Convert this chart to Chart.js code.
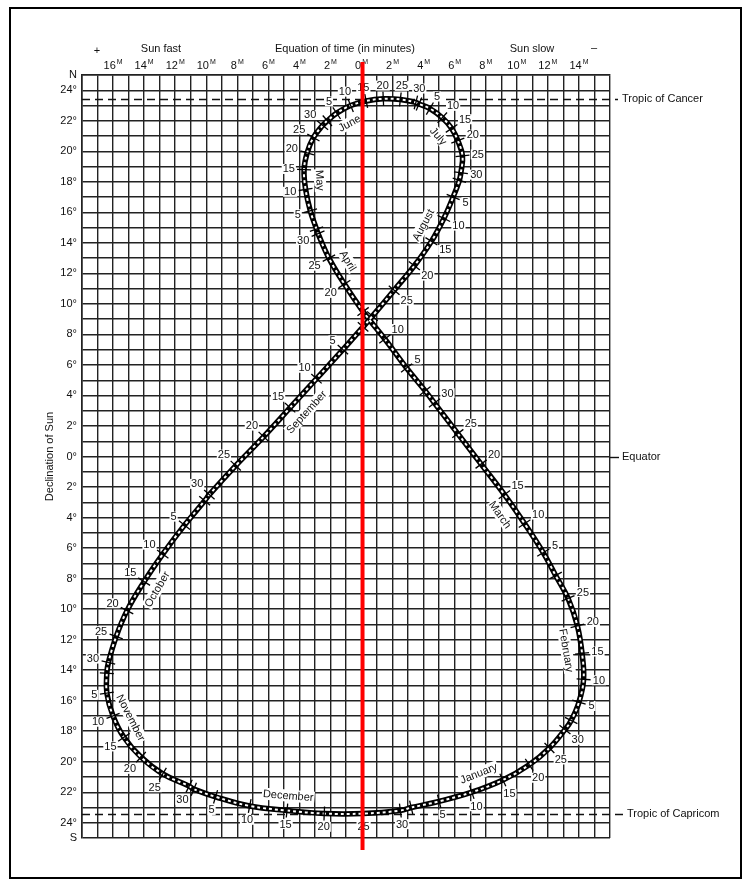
<!DOCTYPE html>
<html>
<head>
<meta charset="utf-8">
<script src="https://cdn.jsdelivr.net/npm/chart.js@4.4.1/dist/chart.umd.min.js"></script>
<style>
  html, body { margin: 0; padding: 0; background: #fff; }
  canvas { display: block; }
</style>
</head>
<body>
<canvas id="analemma" width="743" height="880"></canvas>
<script>
const FONT = '"Liberation Sans", Arial, Helvetica, sans-serif';

const months = ['January', 'February', 'March', 'April', 'May', 'June',
  'July', 'August', 'September', 'October', 'November', 'December'];

// one point on the 1st and then every 5 days, last point closes the loop
const pointMonth = [
  0, 0, 0, 0, 0, 0, 0,
  1, 1, 1, 1, 1, 1,
  2, 2, 2, 2, 2, 2, 2,
  3, 3, 3, 3, 3, 3, 3,
  4, 4, 4, 4, 4, 4, 4,
  5, 5, 5, 5, 5, 5, 5,
  6, 6, 6, 6, 6, 6, 6,
  7, 7, 7, 7, 7, 7, 7,
  8, 8, 8, 8, 8, 8, 8,
  9, 9, 9, 9, 9, 9, 9,
  10, 10, 10, 10, 10, 10, 10,
  11, 11, 11, 11, 11, 11, 11,
  0
];
const pointDay = [
  1, 5, 10, 15, 20, 25, 30,
  1, 5, 10, 15, 20, 25,
  1, 5, 10, 15, 20, 25, 30,
  1, 5, 10, 15, 20, 25, 30,
  1, 5, 10, 15, 20, 25, 30,
  1, 5, 10, 15, 20, 25, 30,
  1, 5, 10, 15, 20, 25, 30,
  1, 5, 10, 15, 20, 25, 30,
  1, 5, 10, 15, 20, 25, 30,
  1, 5, 10, 15, 20, 25, 30,
  1, 5, 10, 15, 20, 25, 30,
  1, 5, 10, 15, 20, 25, 30,
  1
];
// equation of time in minutes (+ = sun fast)
const eot = [
  -3.2, -5.0, -7.1, -9.1, -10.8, -12.1, -13.1,
  -13.5, -14.0, -14.3, -14.2, -13.9, -13.3,
  -12.5, -11.7, -10.5, -9.2, -7.7, -6.2, -4.7,
  -4.1, -2.9, -1.5, -0.1, 1.1, 2.1, 2.8,
  2.9, 3.3, 3.6, 3.7, 3.5, 3.1, 2.5,
  2.2, 1.6, 0.7, -0.3, -1.4, -2.5, -3.5,
  -3.7, -4.4, -5.2, -5.8, -6.2, -6.5, -6.4,
  -6.3, -5.9, -5.3, -4.5, -3.4, -2.1, -0.7,
  -0.1, 1.2, 2.9, 4.6, 6.3, 8.1, 9.8,
  10.1, 11.4, 12.8, 14.0, 15.1, 15.8, 16.3,
  16.4, 16.4, 16.0, 15.3, 14.2, 12.8, 11.1,
  10.8, 9.4, 7.2, 4.8, 2.4, -0.1, -2.5,
  -3.2
];
// declination of the sun in degrees (+ = north)
const decl = [
  -23.0, -22.6, -22.0, -21.2, -20.2, -19.1, -17.9,
  -17.3, -16.1, -14.6, -12.9, -11.1, -9.3,
  -7.8, -6.3, -4.4, -2.5, -0.5, 1.5, 3.5,
  4.3, 5.8, 7.7, 9.5, 11.3, 13.0, 14.6,
  14.9, 16.1, 17.5, 18.8, 19.9, 20.9, 21.7,
  22.0, 22.5, 23.0, 23.3, 23.44, 23.4, 23.2,
  23.1, 22.8, 22.2, 21.5, 20.7, 19.7, 18.6,
  18.1, 17.0, 15.6, 14.1, 12.5, 10.9, 9.2,
  8.5, 7.0, 5.1, 3.2, 1.3, -0.6, -2.5,
  -2.9, -4.5, -6.4, -8.2, -10.1, -11.8, -13.5,
  -14.2, -15.5, -17.0, -18.4, -19.7, -20.8, -21.6,
  -21.8, -22.3, -22.9, -23.2, -23.4, -23.4, -23.2,
  -23.0
];
// day of the month where each month name sits
const monthLabelDay = [12, 16, 13, 23, 12, 7, 14, 13, 14, 15, 12, 15];

const xTickValues = [16, 14, 12, 10, 8, 6, 4, 2, 0, -2, -4, -6, -8, -10, -12, -14];
const tropic = 23.44;
const upperCentre = [-1.5, 17];
const lowerCentre = [1, -10];

const curve = eot.map((v, i) => ({ x: v, y: decl[i] }));
const gridColor = '#222';

function px(chart, i) {
  return { x: chart.scales.x.getPixelForValue(eot[i]), y: chart.scales.y.getPixelForValue(decl[i]) };
}
function unit(dx, dy) {
  const l = Math.hypot(dx, dy) || 1;
  return { x: dx / l, y: dy / l };
}
function tangent(chart, i) {
  const n = eot.length;
  const a = px(chart, i > 0 ? i - 1 : n - 2);
  const b = px(chart, i < n - 1 ? i + 1 : 1);
  return unit(b.x - a.x, b.y - a.y);
}
function outwardNormal(chart, p, t, dec) {
  const c = dec > 8.8 ? upperCentre : lowerCentre;
  const cx = chart.scales.x.getPixelForValue(c[0]);
  const cy = chart.scales.y.getPixelForValue(c[1]);
  let nx = -t.y, ny = t.x;
  if (nx * (p.x - cx) + ny * (p.y - cy) < 0) { nx = -nx; ny = -ny; }
  return { x: nx, y: ny };
}
// true when the point lies right at the crossing of the two branches
function nearCrossing(chart, i) {
  const n = eot.length - 1;
  const p = px(chart, i);
  for (let k = 0; k < n; k++) {
    const gap = Math.abs(k - i);
    if (Math.min(gap, n - gap) <= 2) continue;
    const q = px(chart, k);
    if (Math.hypot(q.x - p.x, q.y - p.y) < 20) return true;
  }
  return false;
}

const decorations = {
  id: 'decorations',
  beforeDatasetsDraw(chart) {
    const ctx = chart.ctx, a = chart.chartArea, ys = chart.scales.y;
    ctx.save();
    ctx.strokeStyle = '#111';
    ctx.lineWidth = 1.4;
    ctx.setLineDash([8, 5]);
    [[tropic, 8], [-tropic, 13]].forEach(([v, ext]) => {
      const y = Math.round(ys.getPixelForValue(v)) + 0.5;
      ctx.beginPath(); ctx.moveTo(a.left, y); ctx.lineTo(a.right + ext, y); ctx.stroke();
    });
    ctx.setLineDash([]);
    const ye = Math.round(ys.getPixelForValue(0)) + 0.5;
    ctx.beginPath(); ctx.moveTo(a.right, ye); ctx.lineTo(a.right + 9, ye); ctx.stroke();
    ctx.restore();
  },
  afterDatasetsDraw(chart) {
    const ctx = chart.ctx;
    ctx.save();
    ctx.font = '11px ' + FONT;
    ctx.textAlign = 'center';
    ctx.textBaseline = 'middle';
    // day numbers on the outside of the loops
    for (let i = 0; i < eot.length - 1; i++) {
      if (pointDay[i] % 5 !== 0 || nearCrossing(chart, i)) continue;
      const p = px(chart, i);
      const n = outwardNormal(chart, p, tangent(chart, i), decl[i]);
      const txt = String(pointDay[i]);
      const w = ctx.measureText(txt).width;
      const off = 9 + Math.abs(n.x) * w / 2 + Math.abs(n.y) * 4;
      const lx = p.x + n.x * off, ly = p.y + n.y * off;
      ctx.fillStyle = '#fff';
      ctx.fillRect(lx - w / 2 - 1, ly - 5, w + 2, 10);
      ctx.fillStyle = '#111';
      ctx.fillText(txt, lx, ly + 0.5);
    }
    // month names on the inside, along the curve
    months.forEach((name, m) => {
      const d = monthLabelDay[m];
      const i = pointDay.findIndex((dd, k) => pointMonth[k] === m && dd <= d &&
        (pointMonth[k + 1] !== m || pointDay[k + 1] > d));
      const j = i + 1;
      const f = (d - pointDay[i]) / (pointDay[j] - pointDay[i]);
      const a = px(chart, i), b = px(chart, j);
      const p = { x: a.x + (b.x - a.x) * f, y: a.y + (b.y - a.y) * f };
      const t = unit(b.x - a.x, b.y - a.y);
      const n = outwardNormal(chart, p, t, decl[i]);
      const lx = p.x - n.x * 15, ly = p.y - n.y * 15;
      let ang = Math.atan2(t.y, t.x);
      if (ang > Math.PI / 2) ang -= Math.PI;
      if (ang <= -Math.PI / 2) ang += Math.PI;
      ctx.save();
      ctx.translate(lx, ly);
      ctx.rotate(ang);
      const w = ctx.measureText(name).width;
      ctx.fillStyle = '#fff';
      ctx.fillRect(-w / 2 - 1, -6, w + 2, 12);
      ctx.fillStyle = '#111';
      ctx.fillText(name, 0, 0.5);
      ctx.restore();
    });
    ctx.restore();
  },
  afterDraw(chart) {
    const ctx = chart.ctx, a = chart.chartArea, xs = chart.scales.x, ys = chart.scales.y;
    ctx.save();
    ctx.fillStyle = '#111';
    ctx.textBaseline = 'middle';
    // x tick labels with superscript M
    xTickValues.forEach(v => {
      const num = String(Math.abs(v));
      ctx.font = '11px ' + FONT;
      const wn = ctx.measureText(num).width;
      ctx.font = '7px ' + FONT;
      const wm = ctx.measureText('M').width;
      const x0 = xs.getPixelForValue(v) - (wn + wm + 1) / 2;
      ctx.textAlign = 'left';
      ctx.font = '11px ' + FONT;
      ctx.fillText(num, x0, 66);
      ctx.font = '7px ' + FONT;
      ctx.fillText('M', x0 + wn + 1, 62);
    });
    ctx.font = '11px ' + FONT;
    ctx.textAlign = 'center';
    ctx.fillText('+', 97, 51);
    ctx.fillText('Sun fast', 161, 49);
    ctx.fillText('Equation of time (in minutes)', 345, 49);
    ctx.fillText('Sun slow', 532, 49);
    ctx.fillText('\u2013', 594, 48);
    // right-hand labels
    ctx.textAlign = 'left';
    ctx.fillText('Tropic of Cancer', a.right + 12, ys.getPixelForValue(tropic));
    ctx.fillText('Equator', a.right + 12, ys.getPixelForValue(0));
    ctx.fillText('Tropic of Capricom', a.right + 17, ys.getPixelForValue(-tropic));
    // y axis title
    ctx.save();
    ctx.translate(50, ys.getPixelForValue(0));
    ctx.rotate(-Math.PI / 2);
    ctx.textAlign = 'center';
    ctx.fillText('Declination of Sun', 0, 0);
    ctx.restore();
    // red marker at zero
    ctx.strokeStyle = '#ff0000';
    ctx.lineWidth = 4;
    const xr = xs.getPixelForValue(0) + 1;
    ctx.beginPath(); ctx.moveTo(xr, 62); ctx.lineTo(xr, 850); ctx.stroke();
    // frame
    ctx.strokeStyle = '#000';
    ctx.lineWidth = 2;
    ctx.strokeRect(10, 8, 731, 870);
    ctx.restore();
  }
};

const ctx = document.getElementById('analemma').getContext('2d');
new Chart(ctx, {
  type: 'line',
  data: {
    datasets: [
      {
        label: 'ticks',
        data: curve,
        showLine: false,
        pointStyle: 'line',
        pointRadius: c => (c.dataIndex === eot.length - 1 ? 0 : 7),
        pointBorderColor: '#000',
        pointBorderWidth: 1.3,
        pointRotation: c => {
          const t = tangent(c.chart, c.dataIndex);
          return Math.atan2(t.y, t.x) * 180 / Math.PI + 90;
        },
        order: 0
      },
      {
        label: 'inner',
        data: curve,
        borderColor: '#fff',
        borderWidth: 2,
        borderDash: [3, 3],
        tension: 0.4,
        pointRadius: 0,
        order: 1
      },
      {
        label: 'outer',
        data: curve,
        borderColor: '#000',
        borderWidth: 5.5,
        tension: 0.4,
        pointRadius: 0,
        order: 2
      }
    ]
  },
  options: {
    responsive: false,
    animation: false,
    devicePixelRatio: 1,
    events: [],
    layout: { padding: { left: 0, top: 75, right: 133, bottom: 42 } },
    plugins: { legend: { display: false }, tooltip: { enabled: false } },
    scales: {
      x: {
        type: 'linear',
        position: 'top',
        reverse: true,
        min: -16,
        max: 18,
        ticks: { display: false, stepSize: 1, autoSkip: false },
        grid: { color: gridColor, lineWidth: 1.4, drawTicks: false },
        border: { color: gridColor, width: 1.6 },
        afterFit: s => { s.height = 0; }
      },
      y: {
        type: 'linear',
        min: -25,
        max: 25,
        ticks: {
          stepSize: 1,
          autoSkip: false,
          padding: 5,
          color: '#111',
          font: { family: FONT, size: 11 },
          callback: v => {
            if (v === 25) return 'N';
            if (v === -25) return 'S';
            return v % 2 === 0 ? Math.abs(v) + '\u00b0' : '';
          }
        },
        grid: { color: gridColor, lineWidth: 1.4, drawTicks: false },
        border: { color: gridColor, width: 1.6 },
        afterFit: s => { s.width = 82; }
      }
    }
  },
  plugins: [decorations]
});
</script>
</body>
</html>
